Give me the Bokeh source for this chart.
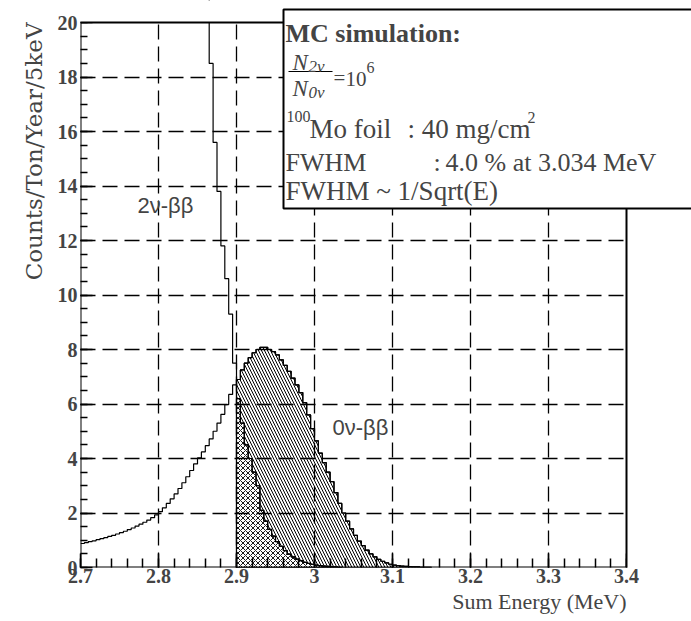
import numpy as np
from bokeh.plotting import figure
from bokeh.models import FixedTicker, Label, BoxAnnotation, Range1d, Title
from bokeh.embed import file_html
from bokeh.resources import INLINE

# ---------------- data ----------------
BIN_WIDTH = 0.005           # MeV (5 keV bins)
ROI_LOW = 2.9               # start of the hatched region of interest
X_MIN, X_MAX = 2.7, 3.4
Y_MIN, Y_MAX = 0, 20

x_ticks = [2.7, 2.8, 2.9, 3.0, 3.1, 3.2, 3.3, 3.4]
x_tick_labels = ["2.7", "2.8", "2.9", "3", "3.1", "3.2", "3.3", "3.4"]
x_minor_ticks = [round(2.7 + 0.02 * i, 3) for i in range(36)]
y_ticks = [0, 2, 4, 6, 8, 10, 12, 14, 16, 18, 20]
y_tick_labels = [str(t) for t in y_ticks]
y_minor_ticks = [0.5 * i for i in range(41)]

# 0nu-bb spectrum (counts/ton/year/5keV), bins starting at 2.700 MeV
zero_nu_start = 2.7
zero_nu = [
    0.88, 0.91, 0.95, 0.98, 1.02, 1.06, 1.10, 1.14, 1.18, 1.23,
    1.28, 1.33, 1.39, 1.45, 1.52, 1.59, 1.66, 1.74, 1.83, 1.93,
    2.05, 2.19, 2.35, 2.52, 2.70, 2.90, 3.11, 3.33, 3.56, 3.80,
    4.02, 4.24, 4.47, 4.72, 5.00, 5.30, 5.62, 5.98, 6.35, 6.70,
    6.90, 7.25, 7.50, 7.70, 7.88, 8.00, 8.08, 8.08, 8.00, 7.92,
    7.80, 7.62, 7.42, 7.20, 6.95, 6.70, 6.42, 6.05, 5.60, 5.10,
    4.65, 4.20, 3.85, 3.50, 3.15, 2.75, 2.35, 2.00, 1.70, 1.42,
    1.18, 0.97, 0.80, 0.64, 0.50, 0.39, 0.30, 0.23, 0.17, 0.12,
    0.09, 0.07, 0.05, 0.04, 0.03, 0.02, 0.02, 0.01, 0.01, 0.01,
]

# 2nu-bb spectrum, bins starting at 2.855 MeV (values above 20 are off scale)
two_nu_start = 2.855
two_nu = [
    26.0, 21.0, 18.5, 15.6, 13.8, 11.8, 10.6, 9.3, 7.5,
    6.2, 5.3, 4.5, 4.0, 3.5, 3.0, 2.1, 1.7, 1.4, 1.15,
    0.95, 0.78, 0.62, 0.49, 0.39, 0.31, 0.25, 0.19, 0.15, 0.12,
    0.09, 0.07, 0.05, 0.04, 0.03, 0.02, 0.01,
]


def bin_edges(start, n):
    return np.round(start + BIN_WIDTH * np.arange(n + 1), 6)


def step_xy(start, vals):
    edges = bin_edges(start, len(vals))
    return list(edges), list(vals) + [vals[-1]]


def roi_polygon(start, vals):
    edges = bin_edges(start, len(vals))
    xs, ys = [], []
    first = True
    for lo, hi, v in zip(edges[:-1], edges[1:], vals):
        if lo < ROI_LOW - 1e-9:
            continue
        if first:
            xs.append(lo); ys.append(0.0)
            first = False
        xs += [lo, hi]
        ys += [v, v]
    xs.append(xs[-1]); ys.append(0.0)
    return xs, ys


# ---------------- layout ----------------
W, H = 691, 621
FRAME_LEFT, FRAME_BOTTOM = 80, 567        # canvas px of the axes corner
PLOT_RIGHT, PLOT_TOP = 626, 22            # canvas px of the histogram frame
px_per_x = (PLOT_RIGHT - FRAME_LEFT) / (X_MAX - X_MIN)
px_per_y = (FRAME_BOTTOM - PLOT_TOP) / (Y_MAX - Y_MIN)
# the drawing area reaches the canvas' right and top edges so the info box can too
x_view_end = X_MAX + (W - PLOT_RIGHT) / px_per_x
y_view_end = Y_MAX + PLOT_TOP / px_per_y

p = figure(width=W, height=H,
           x_range=Range1d(X_MIN, x_view_end), y_range=Range1d(Y_MIN, y_view_end),
           output_backend="svg", toolbar_location=None,
           min_border_left=FRAME_LEFT, min_border_right=0,
           min_border_top=0, min_border_bottom=H - FRAME_BOTTOM)
p.background_fill_color = "white"
p.border_fill_color = "white"
p.outline_line_color = None

SERIF = "Liberation Serif"

xa = p.xaxis[0]
xa.bounds = (X_MIN, X_MAX)
xa.ticker = FixedTicker(ticks=x_ticks, minor_ticks=x_minor_ticks)
xa.major_label_overrides = dict(zip(x_ticks, x_tick_labels))
xa.major_label_text_font = SERIF
xa.major_label_text_font_style = "bold"
xa.major_label_text_font_size = "20px"
xa.major_label_standoff = 1
xa.major_tick_in = 14
xa.major_tick_out = 0
xa.minor_tick_in = 9
xa.minor_tick_out = 0
xa.major_tick_line_width = 1.5
xa.minor_tick_line_width = 1.5
xa.axis_line_color = None

ya = p.yaxis[0]
ya.bounds = (Y_MIN, Y_MAX)
ya.ticker = FixedTicker(ticks=y_ticks, minor_ticks=y_minor_ticks)
ya.major_label_overrides = dict(zip(y_ticks, y_tick_labels))
ya.major_label_text_font = SERIF
ya.major_label_text_font_style = "bold"
ya.major_label_text_font_size = "20px"
ya.major_label_standoff = 3
ya.major_tick_in = 12
ya.major_tick_out = 0
ya.minor_tick_in = 7
ya.minor_tick_out = 0
ya.major_tick_line_width = 1.5
ya.minor_tick_line_width = 1.5
ya.axis_line_color = None

# axis titles, right/top aligned at the ends of the histogram frame
p.add_layout(Title(text="Sum Energy (MeV)", align="right", offset=W - PLOT_RIGHT,
                   standoff=3, text_font=SERIF, text_font_size="22px",
                   text_font_style="normal"), "below")
p.add_layout(Title(text="Counts/Ton/Year/5keV", align="right", offset=PLOT_TOP,
                   standoff=16, text_font="DejaVu Serif", text_font_size="23px",
                   text_font_style="normal"), "left")

p.xgrid.ticker = FixedTicker(ticks=x_ticks[1:-1])
p.ygrid.ticker = FixedTicker(ticks=y_ticks[1:-1])
for g in (p.xgrid, p.ygrid):
    g.grid_line_color = "black"
    g.grid_line_width = 1.3
    g.grid_line_dash = "15 7"
    g.level = "guide"

# hatched 0nu region of interest
zx, zy = roi_polygon(zero_nu_start, zero_nu)
p.patch(zx, zy, fill_color=None, hatch_pattern="\\", hatch_color="black",
        hatch_scale=6, hatch_weight=1, line_color="black", line_width=1.2)
# cross-hatched 2nu contribution in the region of interest
tx, ty = roi_polygon(two_nu_start, two_nu)
p.patch(tx, ty, fill_color="white", hatch_pattern="x", hatch_color="black",
        hatch_scale=5, hatch_weight=0.9, line_color="black", line_width=1.2)
# histogram outlines
sx, sy = step_xy(zero_nu_start, zero_nu)
p.step(sx, sy, mode="after", line_color="black", line_width=1.2)
sx2, sy2 = step_xy(two_nu_start, two_nu)
p.step(sx2, sy2, mode="after", line_color="black", line_width=1.2)

# white covers outside the histogram frame, then the frame itself
p.add_layout(BoxAnnotation(bottom=Y_MAX, fill_color="white", fill_alpha=1.0,
                           line_alpha=0))
p.add_layout(BoxAnnotation(left=X_MAX, fill_color="white", fill_alpha=1.0,
                           line_alpha=0))
p.add_layout(BoxAnnotation(left=X_MIN, right=X_MAX, bottom=Y_MIN, top=Y_MAX,
                           fill_alpha=0, line_color="black", line_alpha=1.0,
                           line_width=2))

# curve labels
p.add_layout(Label(x=2.773, y=13.3, text="2ν-ββ", text_font="Liberation Sans",
                   text_font_size="22px", text_baseline="middle", text_align="left"))
p.add_layout(Label(x=3.023, y=5.15, text="0ν-ββ", text_font="Liberation Sans",
                   text_font_size="22px", text_baseline="middle", text_align="left"))

# ---------------- info box (canvas units) ----------------
p.add_layout(BoxAnnotation(left=283, right=760, top=9, bottom=208,
                           left_units="canvas", right_units="canvas",
                           top_units="canvas", bottom_units="canvas",
                           fill_color="white", fill_alpha=1.0,
                           line_color="black", line_alpha=1.0, line_width=2))
# fraction bar
p.add_layout(BoxAnnotation(left=288, right=332, top=70.4, bottom=71.6,
                           left_units="canvas", right_units="canvas",
                           top_units="canvas", bottom_units="canvas",
                           fill_color="black", fill_alpha=1.0, line_alpha=0))


def box_text(text, x, y, size, style="normal"):
    p.add_layout(Label(x=x, y=y, x_units="canvas", y_units="canvas", text=text,
                       text_font=SERIF, text_font_size=f"{size}px",
                       text_font_style=style, text_baseline="alphabetic",
                       text_align="left"))


box_text("MC simulation:", 285, 33, 26, "bold")
box_text("N", 292, 62, 23, "italic")
box_text("2ν", 308, 66, 17, "italic")
box_text("N", 292, 88, 23, "italic")
box_text("0ν", 308, 92, 17, "italic")
box_text("=", 333, 77, 21)
box_text("10", 345, 78, 21)
box_text("6", 366, 67, 16)
box_text("100", 286, 116, 16)
box_text("Mo foil", 309, 128, 27)
box_text(": 40 mg/cm", 407, 128, 27)
box_text("2", 527, 117, 16)
box_text("FWHM", 285, 162, 26)
box_text(":", 433, 162, 26)
box_text("4.0 % at 3.034 MeV", 445, 162, 26)
box_text("FWHM ~ 1/Sqrt(E)", 285, 190, 27)

open("out.html", "w").write(file_html(p, INLINE))
